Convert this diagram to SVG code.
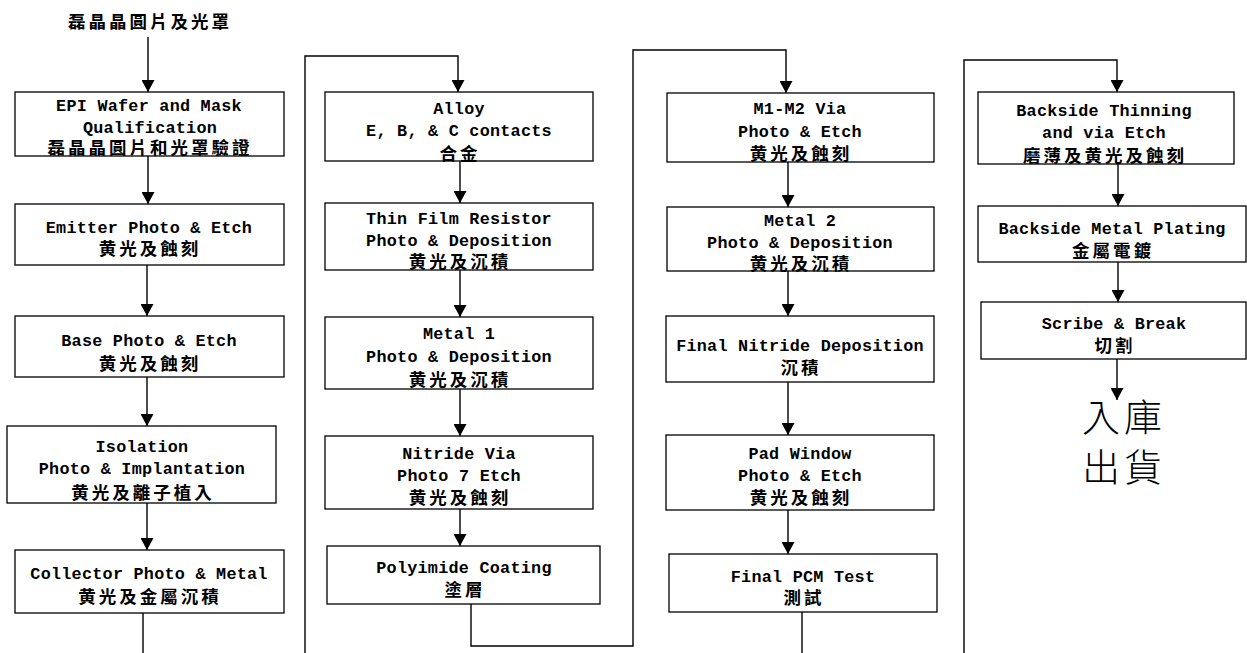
<svg xmlns="http://www.w3.org/2000/svg" width="1247" height="653" viewBox="0 0 1247 653">
<style>
  .box{fill:#fff;stroke:#000;stroke-width:1.3}
  .en{font-family:"Liberation Mono","DejaVu Sans Mono",monospace;font-size:16.8px;letter-spacing:0.25px;font-weight:bold;fill:#000;text-anchor:middle}
  .zh{font-family:"Noto Sans CJK TC","Noto Sans CJK SC",sans-serif;font-size:17.5px;font-weight:bold;letter-spacing:3px;fill:#000;text-anchor:middle}
  .big{font-family:"Noto Sans CJK TC","Noto Sans CJK SC",sans-serif;font-size:38px;font-weight:300;letter-spacing:4px;fill:#000;text-anchor:middle}
  .ln{fill:none;stroke:#000;stroke-width:1.4}
</style>
<defs>
  <marker id="ah" markerUnits="userSpaceOnUse" markerWidth="13" markerHeight="13" refX="12" refY="6.5" orient="auto">
    <path d="M0,0 L12,6.5 L0,13 z" fill="#000"/>
  </marker>
</defs>
<rect width="1247" height="653" fill="#fff"/>

<g id="connectors">
  <line class="ln" x1="148" y1="37" x2="148" y2="92" marker-end="url(#ah)"/>
  <line class="ln" x1="148" y1="156" x2="148" y2="204" marker-end="url(#ah)"/>
  <line class="ln" x1="147" y1="265" x2="147" y2="316" marker-end="url(#ah)"/>
  <line class="ln" x1="147" y1="377" x2="147" y2="426" marker-end="url(#ah)"/>
  <line class="ln" x1="147" y1="503" x2="147" y2="550" marker-end="url(#ah)"/>
  <line class="ln" x1="143" y1="613" x2="143" y2="653"/>
  <path class="ln" d="M305,653 V56 H458 V92" marker-end="url(#ah)"/>
  <line class="ln" x1="460" y1="161" x2="460" y2="203" marker-end="url(#ah)"/>
  <line class="ln" x1="460" y1="270" x2="460" y2="317" marker-end="url(#ah)"/>
  <line class="ln" x1="460" y1="389" x2="460" y2="436" marker-end="url(#ah)"/>
  <line class="ln" x1="460" y1="509" x2="460" y2="546" marker-end="url(#ah)"/>
  <path class="ln" d="M471,604 V646 H633 V50 H786 V93" marker-end="url(#ah)"/>
  <line class="ln" x1="788" y1="162" x2="788" y2="207" marker-end="url(#ah)"/>
  <line class="ln" x1="788" y1="271" x2="788" y2="316" marker-end="url(#ah)"/>
  <line class="ln" x1="788" y1="382" x2="788" y2="435" marker-end="url(#ah)"/>
  <line class="ln" x1="788" y1="510" x2="788" y2="554" marker-end="url(#ah)"/>
  <line class="ln" x1="802" y1="612" x2="802" y2="653"/>
  <path class="ln" d="M964,653 V60 H1117 V92" marker-end="url(#ah)"/>
  <line class="ln" x1="1118" y1="164" x2="1118" y2="206" marker-end="url(#ah)"/>
  <line class="ln" x1="1118" y1="262" x2="1118" y2="302" marker-end="url(#ah)"/>
  <line class="ln" x1="1117" y1="359" x2="1117" y2="400" marker-end="url(#ah)"/>
</g>

<g id="title"><text class="zh" x="150" y="28">磊晶晶圓片及光罩</text></g>

<g id="n-epi">
  <rect class="box" x="15" y="92" width="269" height="64"/>
  <text class="en" x="149" y="111">EPI Wafer and Mask</text>
  <text class="en" x="150" y="133">Qualification</text>
  <text class="zh" x="150" y="154">磊晶晶圓片和光罩驗證</text>
</g>
<g id="n-emitter">
  <rect class="box" x="15" y="204" width="269" height="61"/>
  <text class="en" x="149" y="232.5">Emitter Photo &amp; Etch</text>
  <text class="zh" x="150" y="255">黄光及蝕刻</text>
</g>
<g id="n-base">
  <rect class="box" x="15" y="316" width="269" height="61"/>
  <text class="en" x="149" y="345.5">Base Photo &amp; Etch</text>
  <text class="zh" x="150" y="370">黄光及蝕刻</text>
</g>
<g id="n-isolation">
  <rect class="box" x="7" y="426" width="269" height="77"/>
  <text class="en" x="142" y="451.5">Isolation</text>
  <text class="en" x="142" y="473.5">Photo &amp; Implantation</text>
  <text class="zh" x="143" y="499">黄光及離子植入</text>
</g>
<g id="n-collector">
  <rect class="box" x="15" y="550" width="269" height="63"/>
  <text class="en" x="149" y="578.5">Collector Photo &amp; Metal</text>
  <text class="zh" x="150" y="603">黄光及金屬沉積</text>
</g>

<g id="n-alloy">
  <rect class="box" x="325" y="92" width="268" height="69"/>
  <text class="en" x="459" y="113.5">Alloy</text>
  <text class="en" x="459" y="135.5">E, B, &amp; C contacts</text>
  <text class="zh" x="460" y="160">合金</text>
</g>
<g id="n-thinfilm">
  <rect class="box" x="325" y="203" width="268" height="67"/>
  <text class="en" x="459" y="223.5">Thin Film Resistor</text>
  <text class="en" x="459" y="245.5">Photo &amp; Deposition</text>
  <text class="zh" x="460" y="268">黄光及沉積</text>
</g>
<g id="n-metal1">
  <rect class="box" x="325" y="317" width="268" height="72"/>
  <text class="en" x="459" y="338.5">Metal 1</text>
  <text class="en" x="459" y="361.5">Photo &amp; Deposition</text>
  <text class="zh" x="460" y="386">黄光及沉積</text>
</g>
<g id="n-nitridevia">
  <rect class="box" x="325" y="436" width="268" height="73"/>
  <text class="en" x="459" y="458.5">Nitride Via</text>
  <text class="en" x="459" y="480.5">Photo 7 Etch</text>
  <text class="zh" x="460" y="504">黄光及蝕刻</text>
</g>
<g id="n-polyimide">
  <rect class="box" x="327" y="546" width="273" height="58"/>
  <text class="en" x="464" y="572.5">Polyimide Coating</text>
  <text class="zh" x="465" y="596">塗層</text>
</g>

<g id="n-m1m2">
  <rect class="box" x="667" y="93" width="267" height="69"/>
  <text class="en" x="800" y="113.5">M1-M2 Via</text>
  <text class="en" x="800" y="136.5">Photo &amp; Etch</text>
  <text class="zh" x="801" y="160">黄光及蝕刻</text>
</g>
<g id="n-metal2">
  <rect class="box" x="667" y="207" width="267" height="64"/>
  <text class="en" x="800" y="225.5">Metal 2</text>
  <text class="en" x="800" y="247.5">Photo &amp; Deposition</text>
  <text class="zh" x="801" y="270">黄光及沉積</text>
</g>
<g id="n-finalnitride">
  <rect class="box" x="666" y="316" width="268" height="66"/>
  <text class="en" x="800" y="350.5">Final Nitride Deposition</text>
  <text class="zh" x="801" y="374">沉積</text>
</g>
<g id="n-padwindow">
  <rect class="box" x="666" y="435" width="268" height="75"/>
  <text class="en" x="800" y="458.5">Pad Window</text>
  <text class="en" x="800" y="480.5">Photo &amp; Etch</text>
  <text class="zh" x="801" y="504">黄光及蝕刻</text>
</g>
<g id="n-pcm">
  <rect class="box" x="669" y="554" width="268" height="58"/>
  <text class="en" x="803" y="581.5">Final PCM Test</text>
  <text class="zh" x="804" y="604">測試</text>
</g>

<g id="n-thinning">
  <rect class="box" x="978" y="92" width="256" height="72"/>
  <text class="en" x="1104" y="115.5">Backside Thinning</text>
  <text class="en" x="1104" y="137.5">and via Etch</text>
  <text class="zh" x="1105" y="162">磨薄及黄光及蝕刻</text>
</g>
<g id="n-plating">
  <rect class="box" x="978" y="206" width="268" height="56"/>
  <text class="en" x="1112" y="233.5">Backside Metal Plating</text>
  <text class="zh" x="1113" y="257">金屬電鍍</text>
</g>
<g id="n-scribe">
  <rect class="box" x="981" y="302" width="265" height="57"/>
  <text class="en" x="1114" y="328.5">Scribe &amp; Break</text>
  <text class="zh" x="1115" y="352">切割</text>
</g>
<g id="n-ship">
  <text class="big" x="1124" y="431">入庫</text>
  <text class="big" x="1124" y="481">出貨</text>
</g>
</svg>
